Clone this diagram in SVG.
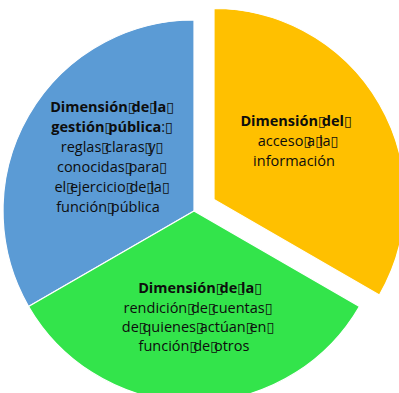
<svg xmlns="http://www.w3.org/2000/svg" width="399" height="393" viewBox="0 0 399 393">
<style>
.slice{stroke:#fff;stroke-width:1.2}
.t{font-family:"Open Sans","Liberation Sans",sans-serif;font-size:14.5px;fill:#0d0d0d;text-anchor:middle}
.b{font-weight:bold}
.x{font-family:"DejaVu Sans",sans-serif;font-size:14px;font-weight:normal;letter-spacing:-4px}
</style>
<rect width="399" height="393" fill="#fff"/>
<g id="gestion">
<path class="slice" d="M194,211 L194,20 A191,191 0 0 0 28.59,306.5 Z" fill="#5B9BD5"/>
<text class="t" x="110" y="112"><tspan class="b">Dimensión<tspan class="x">▯</tspan>de<tspan class="x">▯</tspan>la<tspan class="x">▯</tspan></tspan></text>
<text class="t" x="110" y="132"><tspan class="b">gestión<tspan class="x">▯</tspan>pública</tspan>:<tspan class="x">▯</tspan></text>
<text class="t" x="110" y="152">reglas<tspan class="x">▯</tspan>claras<tspan class="x">▯</tspan>y<tspan class="x">▯</tspan></text>
<text class="t" x="110" y="172">conocidas<tspan class="x">▯</tspan>para<tspan class="x">▯</tspan></text>
<text class="t" x="110" y="192">el<tspan class="x">▯</tspan>ejercicio<tspan class="x">▯</tspan>de<tspan class="x">▯</tspan>la<tspan class="x">▯</tspan></text>
<text class="t" x="108" y="211.5">función<tspan class="x">▯</tspan>pública</text>
</g>
<g id="acceso">
<path class="slice" d="M214,199.5 L214,8.5 A191,191 0 0 1 379.41,295 Z" fill="#FFC000"/>
<text class="t" x="294" y="126"><tspan class="b">Dimensión<tspan class="x">▯</tspan>del<tspan class="x">▯</tspan></tspan></text>
<text class="t" x="296" y="146">acceso<tspan class="x">▯</tspan>a<tspan class="x">▯</tspan>la<tspan class="x">▯</tspan></text>
<text class="t" x="294" y="166">información</text>
</g>
<g id="rendicion">
<path class="slice" d="M194,211 L28.59,306.5 A191,191 0 0 0 359.41,306.5 Z" fill="#33E44B"/>
<text class="t" x="198" y="293"><tspan class="b">Dimensión<tspan class="x">▯</tspan>de<tspan class="x">▯</tspan>la<tspan class="x">▯</tspan></tspan></text>
<text class="t" x="196" y="313">rendición<tspan class="x">▯</tspan>de<tspan class="x">▯</tspan>cuentas<tspan class="x">▯</tspan></text>
<text class="t" x="196" y="332">de<tspan class="x">▯</tspan>quienes<tspan class="x">▯</tspan>actúan<tspan class="x">▯</tspan>en<tspan class="x">▯</tspan></text>
<text class="t" x="194" y="351">función<tspan class="x">▯</tspan>de<tspan class="x">▯</tspan>otros</text>
</g>
</svg>
